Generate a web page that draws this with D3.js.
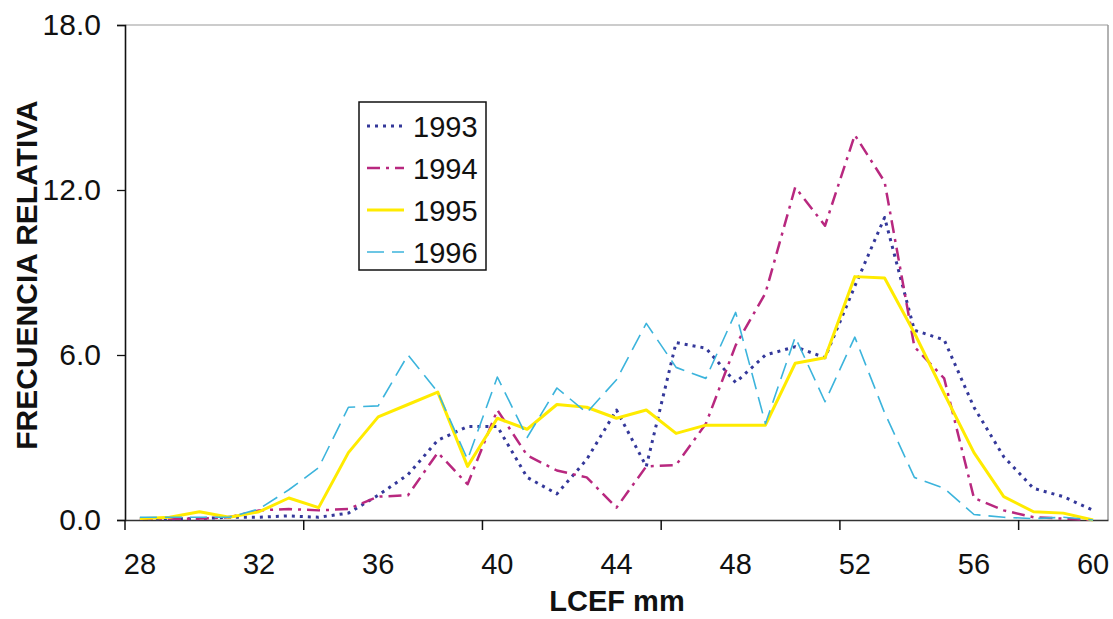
<!DOCTYPE html>
<html>
<head>
<meta charset="utf-8">
<script src="https://cdn.jsdelivr.net/npm/d3@7"></script>
<style>
  html, body { margin: 0; padding: 0; background: #fff; }
  svg { display: block; font-family: Arial, 'Liberation Sans', sans-serif; }
</style>
</head>
<body>
<div id="chart"></div>
<script>
// categorias del eje x (LCEF mm)
let categories = [28, 29, 30, 31, 32, 33, 34, 35, 36, 37, 38, 39, 40, 41, 42, 43, 44,
  45, 46, 47, 48, 49, 50, 51, 52, 53, 54, 55, 56, 57, 58, 59, 60]
let xLabels = [28, 32, 36, 40, 44, 48, 52, 56, 60]
let yTicks = [0, 6, 12, 18]
let years = ['1993', '1994', '1995', '1996']

let s1993 = [0.05, 0.05, 0.05, 0.1, 0.1, 0.15, 0.1, 0.25, 0.9, 1.65, 2.9, 3.4, 3.4, 1.55, 0.95, 2.2, 4.0,
  1.95, 6.45, 6.25, 5.0, 6.0, 6.3, 5.9, 8.5, 11.0, 6.9, 6.55, 4.1, 2.3, 1.15, 0.85, 0.35]
let s1994 = [0.05, 0.05, 0.05, 0.1, 0.35, 0.4, 0.35, 0.4, 0.85, 0.9, 2.45, 1.3, 4.0, 2.35, 1.8, 1.55, 0.45,
  1.95, 2.0, 3.5, 6.35, 8.25, 12.1, 10.7, 14.0, 12.3, 6.3, 5.15, 0.8, 0.35, 0.1, 0.05, 0]
let s1995 = [0.05, 0.1, 0.3, 0.1, 0.3, 0.8, 0.45, 2.45, 3.75, 4.2, 4.65, 1.95, 3.7, 3.3, 4.2, 4.1, 3.7,
  4.0, 3.15, 3.45, 3.45, 3.45, 5.7, 5.9, 8.85, 8.8, 6.8, 4.6, 2.45, 0.85, 0.3, 0.25, 0]
let s1996 = [0.1, 0.1, 0.1, 0.1, 0.4, 1.1, 1.9, 4.1, 4.15, 6.0, 4.65, 2.2, 5.2, 3.0, 4.8, 3.9, 5.1,
  7.15, 5.55, 5.15, 7.55, 3.5, 6.65, 4.3, 6.65, 3.9, 1.55, 1.15, 0.2, 0.1, 0.05, 0.1, 0]

let width = 1113
let height = 619
let plotLeft = 125
let plotRight = 1108
let plotTop = 25
let plotBottom = 520

let series = [
  { name: years[0], values: s1993, color: '#34389a', dash: '3,5', w: 3 },
  { name: years[1], values: s1994, color: '#b8287f', dash: '13,6,3,6', w: 2.5 },
  { name: years[2], values: s1995, color: '#ffeb00', dash: null, w: 3 },
  { name: years[3], values: s1996, color: '#3cb4dc', dash: '17,8', w: 1.6 }
]

let svg = d3.select('#chart').append('svg').attr('width', width).attr('height', height)

// escalas
let x = d3.scaleBand().domain(categories).range([plotLeft, plotRight]).padding(0)
let y = d3.scaleLinear().domain([0, 18]).range([plotBottom, plotTop])
let cx = d => x(d) + x.bandwidth() / 2

// marco del area de trazado
svg.append('line').attr('x1', plotLeft).attr('x2', plotRight).attr('y1', plotTop).attr('y2', plotTop)
  .attr('stroke', '#999').attr('stroke-width', 1)
svg.append('line').attr('x1', plotRight).attr('x2', plotRight).attr('y1', plotTop).attr('y2', plotBottom)
  .attr('stroke', '#999').attr('stroke-width', 1.5)

// eje y
let yAxis = d3.axisLeft(y).tickValues(yTicks).tickFormat(d3.format('.1f')).tickSize(8).tickPadding(16)
let gy = svg.append('g').attr('transform', 'translate(' + plotLeft + ',0)').call(yAxis)
gy.select('.domain').attr('stroke', '#111').attr('stroke-width', 1.6)
gy.selectAll('.tick line').attr('stroke', '#111').attr('stroke-width', 1.3)
gy.selectAll('.tick text').attr('font-size', 30).attr('fill', '#111').attr('font-family', 'Arial, Liberation Sans, sans-serif')

// eje x: etiquetas cada 4 categorias, marcas cada 6
let xAxis = d3.axisBottom(x).tickValues(xLabels).tickSize(0).tickPadding(33)
let gx = svg.append('g').attr('transform', 'translate(0,' + plotBottom + ')').call(xAxis)
gx.select('.domain').attr('stroke', '#333').attr('stroke-width', 1.6)
gx.selectAll('.tick text').attr('font-size', 29).attr('fill', '#111').attr('font-family', 'Arial, Liberation Sans, sans-serif')
let markCats = categories.filter((c, i) => i % 6 === 0)
gx.selectAll('.mark').data(markCats).enter().append('line')
  .attr('class', 'mark')
  .attr('x1', d => x(d)).attr('x2', d => x(d))
  .attr('y1', 0).attr('y2', 10)
  .attr('stroke', '#111').attr('stroke-width', 1.5)

// lineas
let line = d3.line().x((d, i) => cx(categories[i])).y(d => y(d))
series.forEach(s => {
  svg.append('path')
    .datum(s.values)
    .attr('fill', 'none')
    .attr('stroke', s.color)
    .attr('stroke-width', s.w)
    .attr('stroke-dasharray', s.dash)
    .attr('stroke-linejoin', 'round')
    .attr('d', line)
})

// leyenda
let legend = svg.append('g').attr('transform', 'translate(359,102)')
legend.append('rect').attr('width', 127).attr('height', 168)
  .attr('fill', '#fff').attr('stroke', '#111').attr('stroke-width', 1.5)
series.forEach((s, i) => {
  let ly = 24 + i * 42
  legend.append('line').attr('x1', 8).attr('x2', 45).attr('y1', ly).attr('y2', ly)
    .attr('stroke', s.color).attr('stroke-width', s.w)
    .attr('stroke-dasharray', s.dash)
  legend.append('text').text(s.name).attr('x', 54).attr('y', ly + 11)
    .attr('font-size', 29).attr('fill', '#111')
})

// titulos de ejes
svg.append('text').text('LCEF mm')
  .attr('x', 617).attr('y', 611)
  .attr('text-anchor', 'middle').attr('font-size', 29).attr('font-weight', 'bold').attr('fill', '#111')
svg.append('text').text('FRECUENCIA RELATIVA')
  .attr('transform', 'translate(37,' + 275 + ') rotate(-90)')
  .attr('text-anchor', 'middle').attr('font-size', 30).attr('font-weight', 'bold').attr('fill', '#111')
</script>
</body>
</html>
